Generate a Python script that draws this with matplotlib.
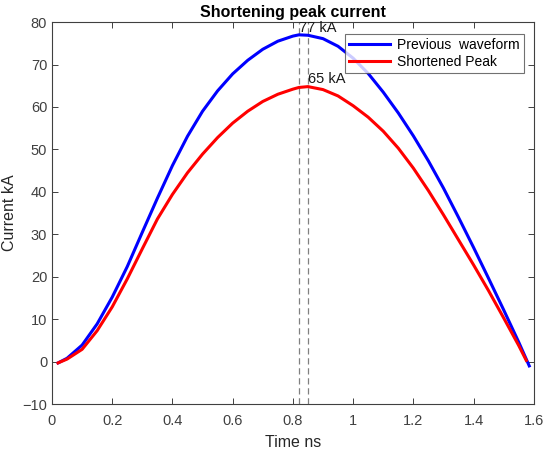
import numpy as np
import matplotlib
matplotlib.use("Agg")
import matplotlib.pyplot as plt

plt.rcParams["font.family"] = ["Liberation Sans", "DejaVu Sans"]

# Previous (long) waveform, time in ns, current in kA
t_prev = [0.02, 0.05, 0.10, 0.15, 0.20, 0.25, 0.30, 0.35, 0.40, 0.45,
          0.50, 0.55, 0.60, 0.65, 0.70, 0.75, 0.80, 0.82, 0.85, 0.90,
          0.95, 1.00, 1.05, 1.10, 1.15, 1.20, 1.25, 1.30, 1.35, 1.40,
          1.45, 1.50, 1.55, 1.585]
i_prev = [-0.3, 0.8, 3.9, 8.9, 15.2, 22.4, 30.5, 38.5, 46.2, 53.1,
          59.0, 63.8, 67.8, 71.0, 73.6, 75.5, 76.7, 77.0, 76.9, 76.1,
          74.3, 71.5, 67.9, 63.5, 58.6, 53.2, 47.3, 40.9, 34.0, 26.9,
          19.6, 12.2, 4.6, -1.0]

# Shortened-peak waveform
t_short = [0.02, 0.05, 0.10, 0.15, 0.20, 0.25, 0.30, 0.35, 0.40, 0.45,
           0.50, 0.55, 0.60, 0.65, 0.70, 0.75, 0.80, 0.82, 0.85, 0.90,
           0.95, 1.00, 1.05, 1.10, 1.15, 1.20, 1.25, 1.30, 1.35, 1.40,
           1.45, 1.50, 1.55, 1.575]
i_short = [-0.3, 0.6, 2.9, 7.3, 12.9, 19.5, 26.6, 33.6, 39.4, 44.5,
           48.9, 52.8, 56.2, 59.0, 61.3, 63.0, 64.2, 64.6, 64.8, 64.1,
           62.6, 60.3, 57.6, 54.3, 50.3, 45.6, 40.3, 34.6, 28.7, 22.8,
           16.7, 10.3, 3.8, 0.3]

fig = plt.figure(figsize=(5.45, 4.51), dpi=100)
ax = fig.add_axes([0.0954, 0.104, 0.884, 0.847])

ax.plot(t_prev, i_prev, color=(0, 0, 1), lw=2.2, label="Previous  waveform")
ax.plot(t_short, i_short, color=(1, 0, 0), lw=2.2, label="Shortened Peak")

# mark each peak with a dashed line and its value
for t, i in ((t_prev, i_prev), (t_short, i_short)):
    k = int(np.argmax(i))
    ax.axvline(t[k], color="0.5", ls=(0, (5, 3)), lw=0.9, zorder=1)
    ax.text(t[k], i[k] + 1.7, f"{i[k]:.0f} kA", fontsize=10.5,
            ha="left", va="center", color="0.1")

ax.set_xlim(0, 1.6)
ax.set_ylim(-10, 80)
ax.set_xticks(np.arange(0, 1.61, 0.2))
ax.set_xticklabels(["0", "0.2", "0.4", "0.6", "0.8", "1", "1.2", "1.4", "1.6"])
ax.set_yticks(np.arange(-10, 81, 10))
ax.tick_params(direction="in", top=True, right=True, length=4,
               labelsize=10.5, colors="0.25", width=0.7)
ax.tick_params(axis="x", pad=7)
for s in ax.spines.values():
    s.set_color("0.25")
    s.set_linewidth(0.8)

ax.set_xlabel("Time ns", fontsize=11.5, color="0.15", labelpad=5)
ax.set_ylabel("Current kA", fontsize=11.5, color="0.15", labelpad=4)
ax.set_title("Shortening peak current", fontsize=11.5, fontweight="bold",
             pad=4)

leg = ax.legend(loc="upper right", bbox_to_anchor=(0.98, 0.97), fontsize=10,
                frameon=True, fancybox=False, handlelength=3.0,
                borderpad=0.3, labelspacing=0.2, handletextpad=0.5,
                borderaxespad=0)
leg.get_frame().set_edgecolor("0.3")
leg.get_frame().set_linewidth(0.8)

fig.savefig("out.png", dpi=100)
